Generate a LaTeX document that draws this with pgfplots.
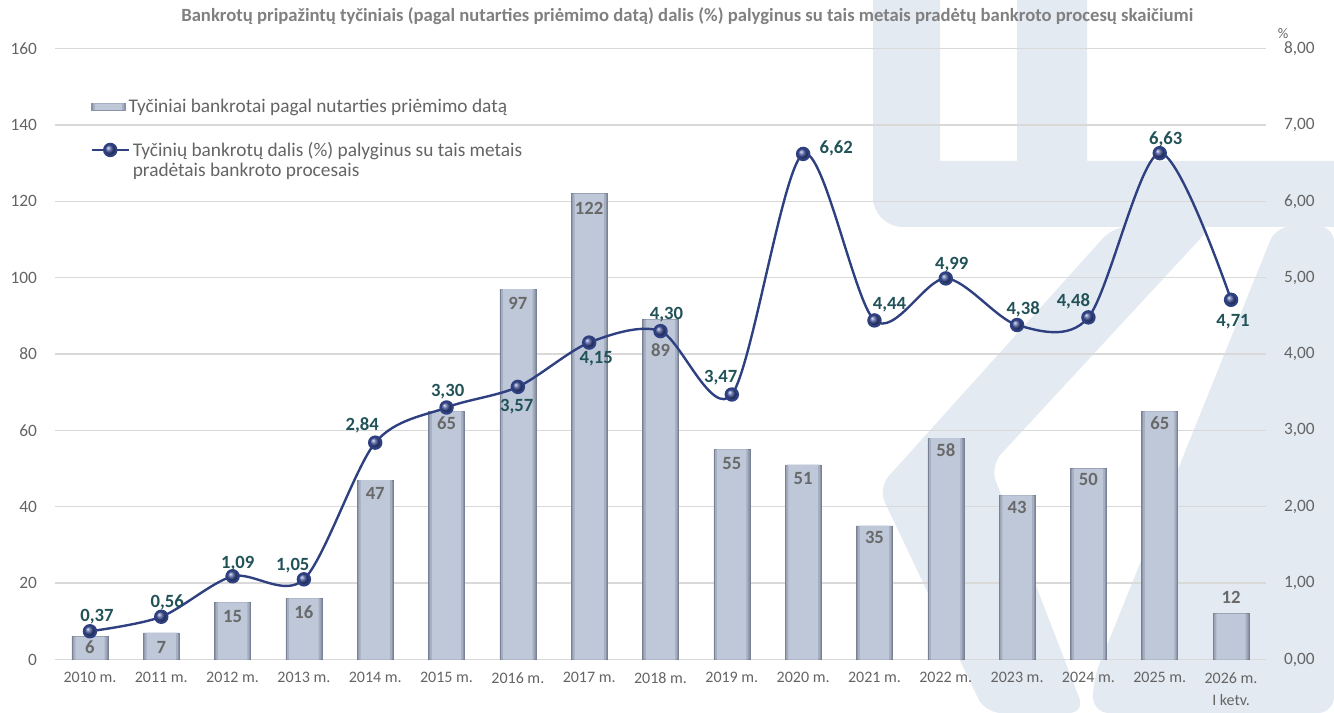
\documentclass[border=0pt]{standalone}
\usepackage{fontspec}
\setmainfont{Carlito}
\usepackage{pgfplots}
\usepackage{pgfplotstable}
\pgfplotsset{compat=1.18}

\definecolor{gridc}{RGB}{217,217,217}
\definecolor{tickc}{RGB}{100,100,100}
\definecolor{titlec}{RGB}{128,128,128}
\definecolor{lblc}{RGB}{33,82,88}
\definecolor{barlblc}{RGB}{105,105,105}
\definecolor{linec}{RGB}{46,64,128}
\definecolor{ballc}{RGB}{60,78,150}
\definecolor{barM}{RGB}{190,200,216}
\definecolor{barE2}{RGB}{165,175,193}
\definecolor{barE}{RGB}{138,148,166}
\definecolor{barD}{RGB}{120,130,148}
\definecolor{wm}{RGB}{228,234,242}

\pgfplotstableread{
x y dy
0 6 -8
1 7 -11
2 15 -11
3 16 -10
4 47 -10
5 65 -9
6 97 -11
7 122 -11
8 89 -23
9 55 -10.5
10 51 -10.5
11 35 -9
12 58 -9
13 43 -9
14 50 -8.5
15 65 -9
16 12 12
}\bardata

\pgfplotsset{
  /pgf/number format/assume math mode=true,
  commonaxis/.style={
    at={(41.25pt,40.1pt)}, anchor=south west,
    scale only axis, width=908.25pt, height=458.25pt,
    xmin=-0.49, xmax=16.49,
    axis line style={draw=none},
    major tick length=0pt,
    clip=false,
  },
}

\begin{document}
\begin{tikzpicture}
\useasboundingbox (0,0) rectangle (1000.5pt,534.75pt);

% faint background logo
\begin{scope}[x=0.75pt,y=-0.75pt,shift={(0pt,534.75pt)}]
  \fill[wm] (873,0) -- (940,0) -- (940,161) -- (1017,161) -- (1017,0) -- (1087,0) -- (1087,161)
     -- (1334,161) -- (1334,227) -- (903,227) arc[start angle=90, end angle=180, radius=30] -- cycle;
  \fill[wm, rounded corners=12] (1114,226) -- (1212,226) -- (990,466) -- (1085,713) -- (985,713) -- (878,488) -- cycle;
  \fill[wm, rounded corners=12] (1276,226) -- (1334,226) -- (1334,713) -- (1093,713) -- (1093,680) -- cycle;
\end{scope}

\begin{axis}[commonaxis,
  ymin=0, ymax=160,
  ytick={0,20,...,160},
  xtick={0,...,16},
  xticklabels={2010 m.,2011 m.,2012 m.,2013 m.,2014 m.,2015 m.,2016 m.,2017 m.,2018 m.,2019 m.,2020 m.,2021 m.,2022 m.,2023 m.,2024 m.,2025 m.,{2026 m.\\I ketv.}},
  xticklabel style={font=\fontsize{12}{17}\selectfont, text=tickc, align=center, yshift=-6pt},
  yticklabel style={font=\fontsize{13}{15}\selectfont, text=tickc, xshift=-10pt},
  ymajorgrids, grid style={draw=gridc, line width=1pt},
  ybar, bar shift=0pt,
  title={Bankrotų pripažintų tyčiniais (pagal nutarties priėmimo datą) dalis (\%) palyginus su tais metais pradėtų bankroto procesų skaičiumi},
  title style={at={(0.522,1)}, anchor=center, yshift=18pt, font=\fontsize{14}{16}\selectfont\bfseries, text=titlec},
  legend style={at={(0.0297,0.905)}, anchor=west, draw=none, fill=none, inner sep=0pt,
     font=\fontsize{14.5}{17}\selectfont, text=tickc},
  legend cell align=left,
  legend image code/.code={\fill[barE] (0pt,-3pt) rectangle (26pt,3pt); \fill[barE2] (1.5pt,-2.5pt) rectangle (24.5pt,2.5pt); \fill[barM] (3pt,-2.5pt) rectangle (23pt,2pt);},
]
\addplot[fill=barE, draw=barD, line width=0.4pt, bar width=27pt, bar shift=0pt, forget plot] table[x=x, y=y] {\bardata};
\addplot[fill=barE2, draw=none, bar width=25pt, bar shift=0pt, forget plot] table[x=x, y=y] {\bardata};
\addplot[fill=barM, draw=none, bar width=22pt, bar shift=0pt,
  nodes near coords, point meta=y,
  visualization depends on={\thisrow{dy} \as \bdy},
  every node near coord/.append style={font=\fontsize{14}{16}\selectfont\bfseries, text=barlblc, anchor=center, yshift=\bdy pt},
] table[x=x, y=y] {\bardata};
\addlegendentry{Tyčiniai bankrotai pagal nutarties priėmimo datą}
\end{axis}

\begin{axis}[commonaxis,
  ymin=0, ymax=8,
  axis y line*=right, axis x line=none,
  ytick={0,...,8},
  yticklabel style={/pgf/number format/fixed, /pgf/number format/fixed zerofill,
     /pgf/number format/precision=2, /pgf/number format/use comma,
     font=\fontsize{13}{15}\selectfont, text=tickc, xshift=10pt},
  legend style={at={(0.029,0.852)}, anchor=north west, draw=none, fill=none, inner sep=0pt,
     row sep=0pt, font=\fontsize{14.5}{17}\selectfont, text=tickc},
  legend cell align=left,
  legend image code/.code={\draw[mark repeat=2,mark phase=2,#1] plot coordinates {(0pt,0pt) (14pt,0pt) (28pt,0pt)};},
]
\addplot[color=linec, line width=1.8pt, smooth, tension=0.5,
  mark=ball, mark size=4.5pt, mark options={ball color=ballc},
  nodes near coords, point meta=explicit symbolic,
  visualization depends on={value \thisrow{dx} \as \ldx},
  visualization depends on={value \thisrow{dy} \as \ldy},
  every node near coord/.append style={font=\fontsize{14}{16}\selectfont\bfseries, text=lblc, anchor=center, xshift=\ldx pt, yshift=\ldy pt},
] table[x=x, y=y, meta=lab] {
x y lab dx dy
0 0.37 0,37 5.3 11.3
1 0.56 0,56 4.5 10.5
2 1.09 1,09 3.8 9.5
3 1.05 1,05 -8.3 10
4 2.84 2,84 -9.8 12.8
5 3.30 3,30 0.8 12
6 3.57 3,57 -0.8 -15
7 4.15 4,15 5.3 -12
8 4.30 4,30 4.5 12
9 3.47 3,47 -8.3 12.8
10 6.62 6,62 24.8 4.5
11 4.44 4,44 11.3 12
12 4.99 4,99 4.5 10.5
13 4.38 4,38 4.5 12
14 4.48 4,48 -11.3 12
15 6.63 6,63 4.5 10.5
16 4.71 4,71 1.5 -16.5
};
\addlegendentry{Tyčinių bankrotų dalis (\%) palyginus su tais metais}
\addlegendimage{empty legend}
\addlegendentry{pradėtais bankroto procesais}
\node[font=\fontsize{11}{12}\selectfont, text=tickc] at (rel axis cs:1,1) [xshift=12.75pt, yshift=11.25pt] {\%};
\end{axis}
\end{tikzpicture}
\end{document}
